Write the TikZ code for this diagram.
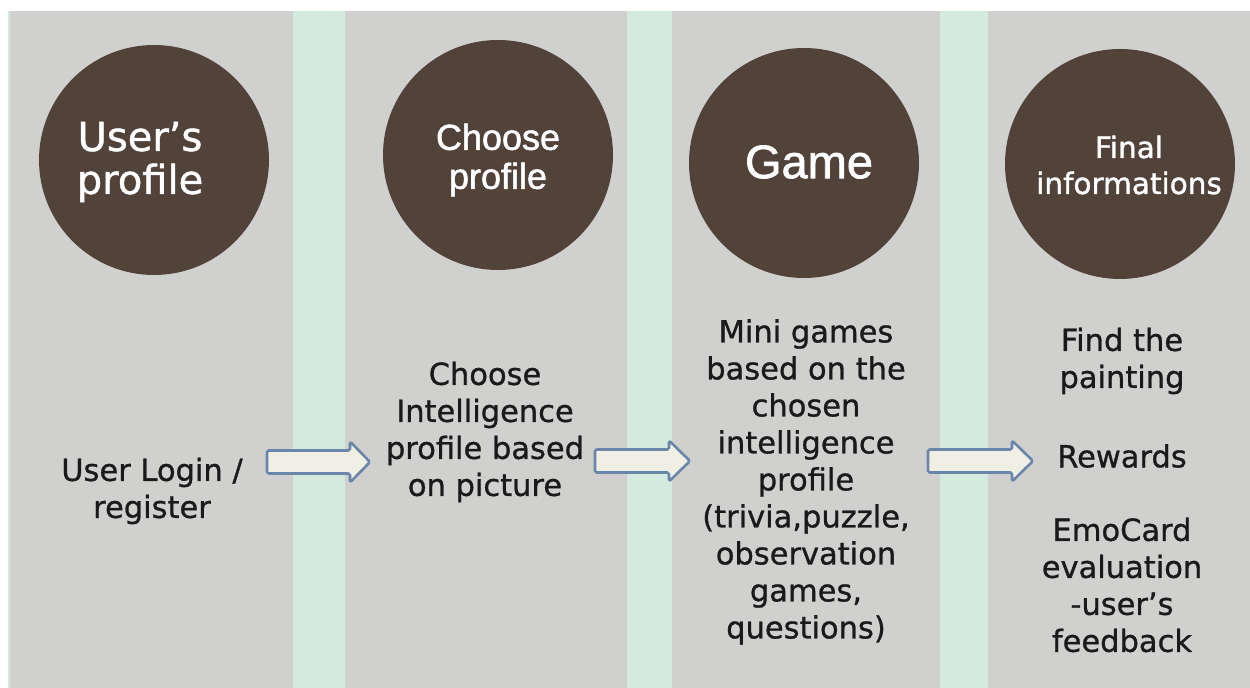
\documentclass[tikz,border=0pt]{standalone}
\usepackage{fontspec}
\setmainfont{DejaVu Sans}[RawFeature={embolden=0.9}]
\newfontfamily\circfont{DejaVu Sans}[RawFeature={embolden=1.2}]
\newfontfamily\arialfont{Liberation Sans}[RawFeature={embolden=1.5}]
\definecolor{bggray}{HTML}{D0D0CE}
\definecolor{stripegreen}{HTML}{D4EADF}
\definecolor{circbrown}{HTML}{51423A}
\definecolor{arrowfill}{HTML}{F0EFE4}
\definecolor{arrowline}{HTML}{6A86AB}
\definecolor{txt}{HTML}{1A1A1A}
\tikzset{
  stage/.style={circle, fill=circbrown, minimum size=115pt, inner sep=0pt, text=white, align=center},
  stagetext/.style={text=white, align=center, inner sep=0pt},
  body/.style={align=center, text=txt, inner sep=0pt, font=\fontsize{15.25}{18.5}\selectfont},
  blockarrow/.style={fill=arrowfill, draw=arrowline, line width=1.3pt, line join=round, rounded corners=0.8pt},
}
\newcommand{\blkarrow}[4]{% x1, xhead, x2, y
  \draw[blockarrow] (#1,#4-11.5) -- (#2,#4-11.5) -- (#2,#4-20.5) -- (#3,#4) -- (#2,#4+20.5) -- (#2,#4+11.5) -- (#1,#4+11.5) -- cycle;}
\begin{document}
\begin{tikzpicture}[x=0.5pt,y=-0.5pt]
\useasboundingbox (0,0) rectangle (1250,688);
\fill[white] (0,0) rectangle (1250,688);
\fill[stripegreen] (8,11) rectangle (1250,688);
\fill[bggray] (10,11) rectangle (1250,688);
\fill[stripegreen] (293,11) rectangle (345,688);
\fill[stripegreen] (627,11) rectangle (672,688);
\fill[stripegreen] (940,11) rectangle (988,688);

\node[stage] (c1) at (154,160) {};
\node[stage] (c2) at (498,155) {};
\node[stage] (c3) at (804,163) {};
\node[stage] (c4) at (1120,164) {};

\node[stagetext, font=\circfont\fontsize{20}{21.5}\selectfont] (t1) at (140,162) {User’s\\profile};
\node[stagetext, font=\arialfont\fontsize{18}{19.5}\selectfont] (t2) at (498,160) {Choose\\profile};
\node[stagetext, font=\arialfont\fontsize{23.5}{25}\selectfont] (t3) at (809,162) {Game};
\node[stagetext, font=\circfont\fontsize{14.75}{18}\selectfont] (t4) at (1129,165) {Final\\informations};

\node[body] (d1) at (152,491) {User Login /\\register};
\node[body] (d2) at (485,432) {Choose\\Intelligence\\profile based\\on picture};
\node[body] (d3) at (806,482) {Mini games\\based on the\\chosen\\intelligence\\profile\\(trivia,puzzle,\\observation\\games,\\questions)};
\node[body] (d4a) at (1122,361) {Find the\\painting};
\node[body] (d4b) at (1122,456) {Rewards};
\node[body] (d4c) at (1122,585) {EmoCard\\evaluation\\-user’s\\feedback};

\blkarrow{267}{350}{370}{462}
\blkarrow{595}{669}{690}{461}
\blkarrow{928}{1012}{1033}{461}
\end{tikzpicture}
\end{document}
